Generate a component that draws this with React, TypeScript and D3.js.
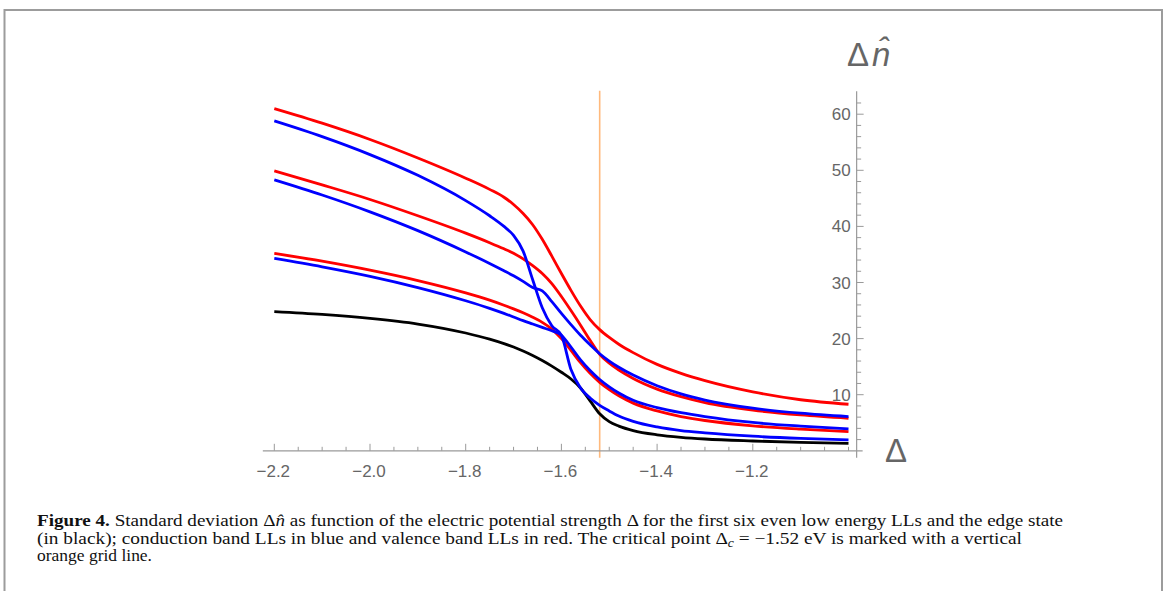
import React, { useEffect, useRef } from "react";
import * as d3 from "d3";

const deltas = [-2.2, -2.1, -2.0, -1.9, -1.8, -1.75, -1.72, -1.7, -1.68, -1.66, -1.64, -1.62, -1.6, -1.58, -1.56, -1.54, -1.52, -1.5, -1.48, -1.45, -1.4, -1.35, -1.3, -1.2, -1.1, -1.0];

// valence band LLs (red)
const valence3 = [61.0, 58.4, 55.5, 52.2, 48.6, 46.6, 45.2, 43.9, 42.3, 40.3, 37.7, 34.7, 31.6, 28.6, 25.8, 23.4, 21.6, 20.2, 19.0, 17.5, 15.4, 13.8, 12.5, 10.5, 9.1, 8.3];
const valence2 = [49.9, 47.4, 44.8, 41.9, 38.8, 37.1, 36.0, 35.2, 34.2, 33.0, 31.6, 29.8, 27.5, 25.0, 22.4, 19.7, 17.2, 15.6, 14.4, 12.9, 11.0, 9.65, 8.6, 7.25, 6.4, 5.8];
const valence1 = [35.2, 33.8, 32.2, 30.35, 28.15, 26.85, 25.95, 25.3, 24.6, 23.8, 22.9, 21.7, 20.0, 17.9, 15.7, 13.8, 12.2, 10.9, 9.8, 8.5, 7.1, 6.1, 5.4, 4.45, 3.85, 3.4];

// conduction band LLs (blue)
const conduction3 = [58.8, 56.0, 52.8, 49.1, 44.6, 41.9, 40.0, 38.4, 35.6, 30.5, 25.5, 22.3, 20.6, 14.5, 11.2, 9.4, 8.1, 7.1, 6.2, 5.25, 4.25, 3.6, 3.2, 2.6, 2.2, 1.93];
const conduction2 = [48.3, 45.6, 42.6, 39.25, 35.45, 33.4, 32.1, 31.2, 30.2, 29.1, 28.5, 26.6, 24.5, 22.5, 20.6, 18.9, 17.3, 16.0, 14.9, 13.5, 11.6, 10.15, 9.05, 7.6, 6.7, 6.1];
const conduction1 = [34.3, 32.8, 31.1, 29.1, 26.75, 25.4, 24.5, 23.85, 23.2, 22.6, 22.0, 21.4, 20.6, 18.5, 16.2, 14.3, 12.7, 11.4, 10.3, 9.0, 7.7, 6.8, 6.1, 5.05, 4.4, 3.9];

// edge state (black)
const edgeState = [24.8, 24.3, 23.6, 22.6, 21.0, 19.9, 19.1, 18.5, 17.8, 17.0, 16.1, 15.1, 14.0, 12.8, 11.2, 8.9, 6.6, 5.2, 4.4, 3.6, 2.85, 2.4, 2.1, 1.75, 1.5, 1.34];

const xTicks = [-2.2, -2.0, -1.8, -1.6, -1.4, -1.2];
const yTicks = [10, 20, 30, 40, 50, 60];
const criticalDelta = -1.52;

const W = 1168;
const H = 591;

export default function App() {
  const svgRef = useRef<SVGSVGElement>(null);

  useEffect(() => {
    if (!svgRef.current) return;
    const svg = d3.select(svgRef.current);
    svg.selectAll("*").remove();

    const x = d3.scaleLinear().domain([-2.2, -1.0]).range([274.3, 848.5]);
    const y = d3.scaleLinear().domain([0, 60]).range([450.8, 114.2]);

    const axisColor = "#9a9a9a";
    const labelColor = "#666666";
    const sans = "'Liberation Sans', Arial, sans-serif";
    const serif = "'Liberation Serif', 'Times New Roman', serif";

    // figure frame
    svg
      .append("path")
      .attr("d", `M4.5,${H} V10 H1162 V${H}`)
      .attr("fill", "none")
      .attr("stroke", "#9c9c9c")
      .attr("stroke-width", 2);

    const yAxisX = x(-0.983);
    const xAxisY = y(0);

    // critical point grid line
    svg
      .append("line")
      .attr("x1", x(criticalDelta))
      .attr("x2", x(criticalDelta))
      .attr("y1", y(64.2))
      .attr("y2", xAxisY + 7)
      .attr("stroke", "#ffb97c")
      .attr("stroke-width", 1.6);

    // x axis
    svg
      .append("line")
      .attr("x1", x(-2.224))
      .attr("x2", yAxisX + 6)
      .attr("y1", xAxisY)
      .attr("y2", xAxisY)
      .attr("stroke", axisColor)
      .attr("stroke-width", 1.2);

    d3.range(-2.2, -0.99, 0.05).forEach((v) => {
      const major = xTicks.some((t) => Math.abs(t - v) < 1e-6);
      svg
        .append("line")
        .attr("x1", x(v))
        .attr("x2", x(v))
        .attr("y1", xAxisY)
        .attr("y2", xAxisY - (major ? 7 : 4))
        .attr("stroke", axisColor)
        .attr("stroke-width", 1);
    });

    svg
      .selectAll(".xlabel")
      .data(xTicks)
      .enter()
      .append("text")
      .attr("x", (d) => x(d) - 1)
      .attr("y", xAxisY + 26)
      .attr("text-anchor", "middle")
      .attr("font-family", sans)
      .attr("font-size", 17)
      .attr("fill", labelColor)
      .text((d) => `\u2212${Math.abs(d).toFixed(1)}`);

    // y axis
    svg
      .append("line")
      .attr("x1", yAxisX)
      .attr("x2", yAxisX)
      .attr("y1", y(64.1))
      .attr("y2", xAxisY + 7)
      .attr("stroke", axisColor)
      .attr("stroke-width", 1.2);

    d3.range(2, 64, 2).forEach((v) => {
      const major = v % 10 === 0;
      svg
        .append("line")
        .attr("x1", yAxisX)
        .attr("x2", yAxisX + (major ? 7 : 4.5))
        .attr("y1", y(v))
        .attr("y2", y(v))
        .attr("stroke", axisColor)
        .attr("stroke-width", 1);
    });

    svg
      .selectAll(".ylabel")
      .data(yTicks)
      .enter()
      .append("text")
      .attr("x", yAxisX - 6)
      .attr("y", (d) => y(d) + 6)
      .attr("text-anchor", "end")
      .attr("font-family", sans)
      .attr("font-size", 17)
      .attr("fill", labelColor)
      .text((d) => d);

    // axis labels
    const yLab = svg
      .append("text")
      .attr("x", 847)
      .attr("y", 66)
      .attr("font-family", sans)
      .attr("font-size", 33)
      .attr("fill", labelColor);
    yLab.append("tspan").text("\u0394");
    yLab.append("tspan").attr("font-style", "italic").attr("dx", 3).text("n\u0302");

    svg
      .append("text")
      .attr("x", 885)
      .attr("y", 462)
      .attr("font-family", sans)
      .attr("font-size", 33)
      .attr("fill", labelColor)
      .text("\u0394");

    // curves
    const series = [
      { values: edgeState, color: "#000000" },
      { values: valence1, color: "#ff0000" },
      { values: valence2, color: "#ff0000" },
      { values: valence3, color: "#ff0000" },
      { values: conduction1, color: "#0000ff" },
      { values: conduction2, color: "#0000ff" },
      { values: conduction3, color: "#0000ff" },
    ];

    const line = d3
      .line<number>()
      .x((d, i) => x(deltas[i]))
      .y((d) => y(d))
      .curve(d3.curveMonotoneX);

    svg
      .selectAll(".curve")
      .data(series)
      .enter()
      .append("path")
      .attr("class", "curve")
      .attr("d", (s) => line(s.values))
      .attr("fill", "none")
      .attr("stroke", (s) => s.color)
      .attr("stroke-width", 2.8)
      .attr("stroke-linejoin", "round")
      .attr("stroke-linecap", "butt");

    // caption
    const cap1 = svg
      .append("text")
      .attr("x", 37)
      .attr("y", 525.5)
      .attr("font-family", serif)
      .attr("font-size", 17)
      .attr("fill", "#111")
      .attr("textLength", 1026)
      .attr("lengthAdjust", "spacingAndGlyphs");
    cap1.append("tspan").attr("font-weight", "bold").text("Figure 4.");
    cap1.append("tspan").text(" Standard deviation \u0394");
    cap1.append("tspan").attr("font-style", "italic").text("n\u0302");
    cap1
      .append("tspan")
      .text(" as function of the electric potential strength \u0394 for the first six even low energy LLs and the edge state");

    const cap2 = svg
      .append("text")
      .attr("x", 37)
      .attr("y", 543.5)
      .attr("font-family", serif)
      .attr("font-size", 17)
      .attr("fill", "#111")
      .attr("textLength", 985)
      .attr("lengthAdjust", "spacingAndGlyphs");
    cap2
      .append("tspan")
      .text("(in black); conduction band LLs in blue and valence band LLs in red. The critical point \u0394");
    cap2.append("tspan").attr("font-style", "italic").attr("font-size", 12).attr("dy", 3).text("c");
    cap2.append("tspan").attr("dy", -3).text(" = \u22121.52 eV is marked with a vertical");

    svg
      .append("text")
      .attr("x", 37)
      .attr("y", 561)
      .attr("font-family", serif)
      .attr("font-size", 17)
      .attr("fill", "#111")
      .attr("textLength", 115)
      .attr("lengthAdjust", "spacingAndGlyphs")
      .text("orange grid line.");
  }, []);

  return (
    <svg
      ref={svgRef}
      width={W}
      height={H}
      style={{ position: "absolute", left: 0, top: 0, background: "#fff" }}
    />
  );
}
